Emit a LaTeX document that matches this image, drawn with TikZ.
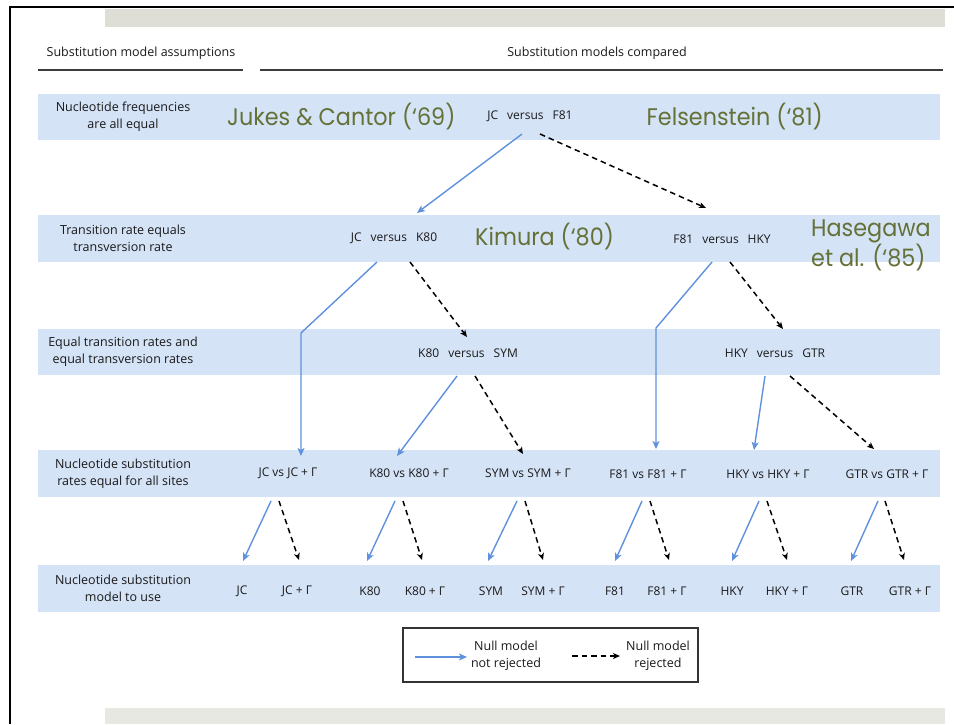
\documentclass[tikz,border=0pt]{standalone}
\usepackage{fontspec}
\setmainfont{Open Sans}
\newfontfamily\greenfont[FakeStretch=0.93]{Poppins}
\usetikzlibrary{arrows.meta}
\definecolor{band}{RGB}{213,227,247}
\definecolor{topgrey}{RGB}{222,222,214}
\definecolor{botgrey}{RGB}{232,232,226}
\definecolor{olive}{RGB}{100,113,55}
\definecolor{arrowblue}{RGB}{95,145,220}
\definecolor{rulegrey}{RGB}{60,60,60}
\begin{document}
\begin{tikzpicture}[x=1pt,y=-1pt,
  lbl/.style={font=\fontsize{12.5}{17}\selectfont, align=center, inner sep=0pt, text=black!90},
  mdl/.style={font=\fontsize{12}{14}\selectfont, inner sep=0pt, text=black!90},
  hdr/.style={font=\fontsize{12.5}{14}\selectfont, inner sep=0pt, text=black!90},
  author/.style={font=\greenfont\fontsize{24}{30}\selectfont, text=olive, inner sep=0pt, align=left},
  bandbox/.style={fill=band, draw=none},
  yes/.style={draw=arrowblue, line width=1.4pt, -{Stealth[length=8pt,width=7pt,inset=2pt]}},
  no/.style={draw=black, line width=1.5pt, dash pattern=on 5.5pt off 4pt, -{Stealth[length=7pt,width=6pt,inset=2pt]}},
  rulestyle/.style={draw=rulegrey, line width=2pt},
]
\useasboundingbox (0,0) rectangle (954,724);
% frame and grey bands
\fill[topgrey] (105,9) rectangle (945,27);
\fill[botgrey] (105,708) rectangle (945,724);
\draw[line width=2pt] (9,7) -- (954,7);
\draw[line width=2pt] (10,7) -- (10,724);
% headers
\node[hdr] (h1) at (141,53) {Substitution model assumptions};
\node[hdr] (h2) at (597,53) {Substitution models compared};
\draw[rulestyle] (38,70) -- (243,70);
\draw[rulestyle] (260,70) -- (943,70);
% bands
\path[bandbox] (38,94) rectangle (940,140);
\path[bandbox] (38,215) rectangle (940,262);
\path[bandbox] (38,329) rectangle (940,375);
\path[bandbox] (38,450) rectangle (940,497);
\path[bandbox] (38,565) rectangle (940,612);
% row labels
\node[lbl] (r1) at (123,117) {Nucleotide frequencies\\are all equal};
\node[lbl] (r2) at (123,238.5) {Transition rate equals\\transversion rate};
\node[lbl] (r3) at (123,352) {Equal transition rates and\\equal transversion rates};
\node[lbl] (r4) at (123,473.5) {Nucleotide substitution\\rates equal for all sites};
\node[lbl] (r5) at (123,588.5) {Nucleotide substitution\\model to use};
% authors
\node[author, anchor=west] (jukes) at (227,117) {Jukes \& Cantor (‘69)};
\node[author, anchor=east] (fels) at (823,117) {Felsenstein (‘81)};
\node[author, anchor=west] (kimura) at (475,237) {Kimura (‘80)};
\node[author, anchor=west] (hase) at (811,245) {Hasegawa\\et al. (‘85)};
% comparisons
\node[mdl] (jcf81) at (530,116) {JC\hspace{9pt}versus\hspace{9pt}F81};
\node[mdl] (jck80) at (394,238) {JC\hspace{9pt}versus\hspace{9pt}K80};
\node[mdl] (f81hky) at (722,239) {F81\hspace{9pt}versus\hspace{9pt}HKY};
\node[mdl] (k80sym) at (468,353) {K80\hspace{9pt}versus\hspace{9pt}SYM};
\node[mdl] (hkygtr) at (775,353) {HKY\hspace{9pt}versus\hspace{9pt}GTR};
\node[mdl] (c1) at (288,473) {JC vs JC + Γ};
\node[mdl] (c2) at (409,473) {K80 vs K80 + Γ};
\node[mdl] (c3) at (528,473) {SYM vs SYM + Γ};
\node[mdl] (c4) at (648,474) {F81 vs F81 + Γ};
\node[mdl] (c5) at (768,474) {HKY vs HKY + Γ};
\node[mdl] (c6) at (887,474) {GTR vs GTR + Γ};
% final models
\node[mdl] (m1) at (242,591) {JC};
\node[mdl] (m2) at (297,591) {JC + Γ};
\node[mdl] (m3) at (370,591) {K80};
\node[mdl] (m4) at (425,591) {K80 + Γ};
\node[mdl] (m5) at (491,591) {SYM};
\node[mdl] (m6) at (543,591) {SYM + Γ};
\node[mdl] (m7) at (615,591) {F81};
\node[mdl] (m8) at (667,591) {F81 + Γ};
\node[mdl] (m9) at (732,591) {HKY};
\node[mdl] (m10) at (787,591) {HKY + Γ};
\node[mdl] (m11) at (852,591) {GTR};
\node[mdl] (m12) at (910,591) {GTR + Γ};
% connector coordinates
\coordinate (a1s) at (522,134); \coordinate (a1e) at (417,213);
\coordinate (b1s) at (540,134); \coordinate (b1e) at (706,208);
\coordinate (a2s) at (377,262); \coordinate (a2m) at (301,333); \coordinate (a2e) at (301,456);
\coordinate (b2s) at (410,262); \coordinate (b2e) at (467,337);
\coordinate (a3s) at (712,262); \coordinate (a3m) at (656,328); \coordinate (a3e) at (656,449);
\coordinate (b3s) at (730,262); \coordinate (b3e) at (783,329);
\coordinate (a4s) at (457,376); \coordinate (a4e) at (397,456);
\coordinate (b4s) at (475,376); \coordinate (b4e) at (523,454);
\coordinate (a5s) at (765,376); \coordinate (a5e) at (754,450);
\coordinate (b5s) at (790,376); \coordinate (b5e) at (874,449);
\draw[yes] (a1s) -- (a1e);
\draw[no] (b1s) -- (b1e);
\draw[yes] (a2s) -- (a2m) -- (a2e);
\draw[no] (b2s) -- (b2e);
\draw[yes] (a3s) -- (a3m) -- (a3e);
\draw[no] (b3s) -- (b3e);
\draw[yes] (a4s) -- (a4e);
\draw[no] (b4s) -- (b4e);
\draw[yes] (a5s) -- (a5e);
\draw[no] (b5s) -- (b5e);
% row 4 to row 5
\foreach \n/\ys/\ye/\ns/\ne in {1/271/243/279/299, 2/395/367/403/422, 3/517/488/525/543, 4/642/615/650/669, 5/759/732/767/787, 6/878/851/885/904}{
  \coordinate (y\n s) at (\ys,501); \coordinate (y\n e) at (\ye,561);
  \coordinate (n\n s) at (\ns,501); \coordinate (n\n e) at (\ne,560);
  \draw[yes] (y\n s) -- (y\n e);
  \draw[no] (n\n s) -- (n\n e);
}
% legend
\node[draw=black!80, line width=1.2pt, minimum width=295pt, minimum height=54pt, inner sep=0pt] (legend) at (550.5,655) {};
\coordinate (l1s) at (415,657); \coordinate (l1e) at (467,657);
\coordinate (l2s) at (572,656); \coordinate (l2e) at (620,656);
\draw[yes] (l1s) -- (l1e);
\draw[no] (l2s) -- (l2e);
\node[lbl] (lt1) at (506,656) {Null model\\not rejected};
\node[lbl] (lt2) at (658,656) {Null model\\rejected};
\end{tikzpicture}
\end{document}
